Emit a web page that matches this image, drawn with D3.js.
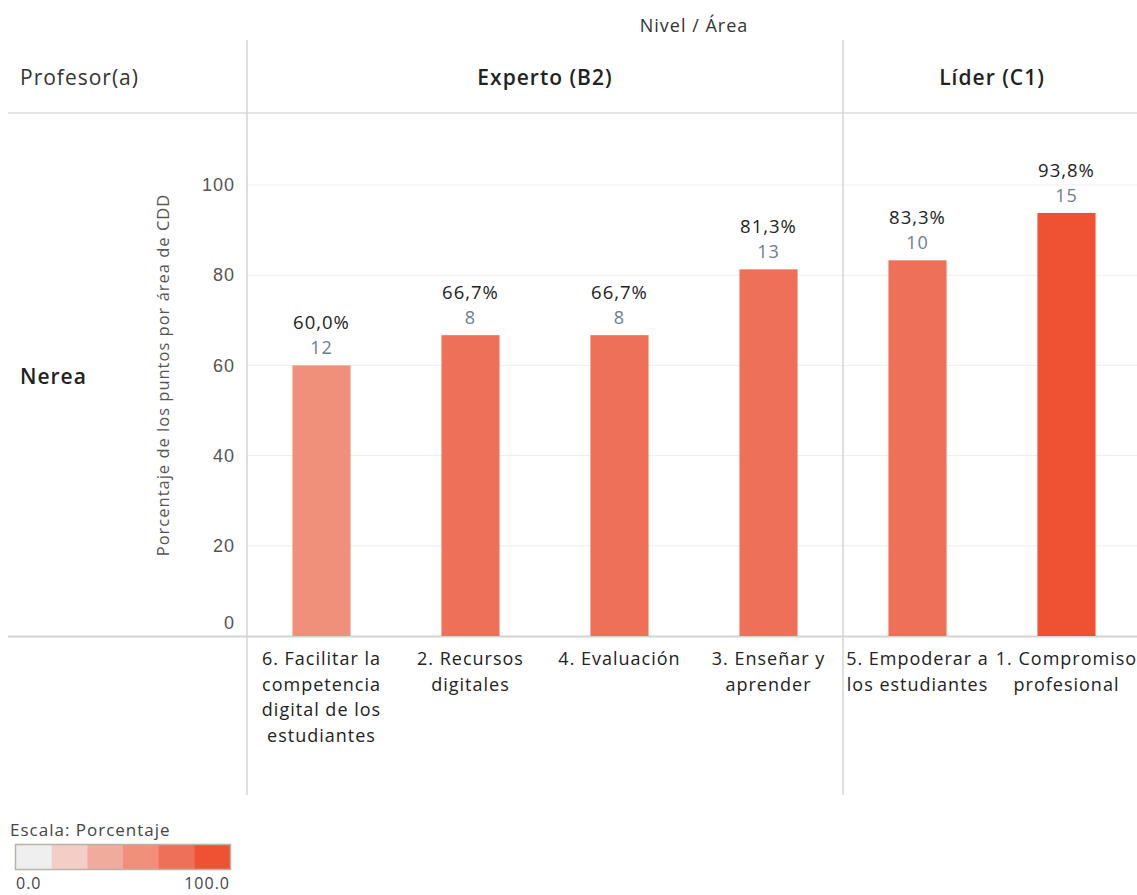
<!DOCTYPE html>
<html><head><meta charset="utf-8">
<script src="https://cdn.jsdelivr.net/npm/d3@7"></script>
<style>body{margin:0;background:#fff}svg{display:block;font-family:"Open Sans",Lato,sans-serif;letter-spacing:1px}</style>
</head><body>
<svg id="chart" width="1137" height="895"></svg>
<script>
const categories = [
  ["6. Facilitar la","competencia","digital de los","estudiantes"],
  ["2. Recursos","digitales"],
  ["4. Evaluación"],
  ["3. Enseñar y","aprender"],
  ["5. Empoderar a","los estudiantes"],
  ["1. Compromiso","profesional"]
];
const levels = ["Experto (B2)","Experto (B2)","Experto (B2)","Experto (B2)","Líder (C1)","Líder (C1)"];
const levelNames = ["Experto (B2)","Líder (C1)"];
const percentages = [60.0, 66.7, 66.7, 81.3, 83.3, 93.8];
const counts = [12, 8, 8, 13, 10, 15];
const yTicks = [0,20,40,60,80,100];
const legendColors = ["#efefef","#f2cec6","#f1ab9d","#f0907a","#ef7059","#ee5233"];
const teacher = "Nerea";

const svg = d3.select("#chart");
const left = 247, step = 149;
const x = d3.scaleBand().domain(d3.range(categories.length)).range([left, left + step*categories.length]).paddingInner(0.61).paddingOuter(0.305);
const y = d3.scaleLinear().domain([0,100]).range([636,185]);
const color = d3.scaleQuantize().domain([0,100]).range(legendColors);

// gridlines
svg.append("g").selectAll("line").data(yTicks.filter(d=>d>0)).join("line")
  .attr("x1", left).attr("x2", 1137).attr("y1", d=>y(d)).attr("y2", d=>y(d))
  .attr("stroke","#ededed").attr("stroke-width",1);

// header/borders
svg.append("line").attr("x1",8).attr("x2",1137).attr("y1",113).attr("y2",113).attr("stroke","#dcdcdc").attr("stroke-width",1.5);
svg.append("line").attr("x1",8).attr("x2",1137).attr("y1",636.5).attr("y2",636.5).attr("stroke","#d4d4d4").attr("stroke-width",2);
const paneBounds = [left, left + step*4];
paneBounds.forEach(px => {
  svg.append("line").attr("x1",px).attr("x2",px).attr("y1",40).attr("y2",795).attr("stroke","#d4d4d4").attr("stroke-width",1.5);
});

// titles
svg.append("text").attr("x",694).attr("y",32).attr("text-anchor","middle").attr("font-size",18).attr("fill","#333").text("Nivel  /  Área");
svg.append("text").attr("x",20).attr("y",85).attr("font-size",21).attr("fill","#333").text("Profesor(a)");
levelNames.forEach(lv => {
  const idx = levels.map((l,i)=>l===lv?i:-1).filter(i=>i>=0);
  const x0 = x(idx[0]) - x.step()*x.paddingInner()/2;
  const x1 = x(idx[idx.length-1]) + x.bandwidth() + x.step()*x.paddingInner()/2;
  svg.append("text").attr("x",(x0+x1)/2).attr("y",85).attr("text-anchor","middle").attr("font-size",21).attr("font-weight",600).attr("fill","#222").text(lv);
});
svg.append("text").attr("x",20).attr("y",384).attr("font-size",21).attr("font-weight",600).attr("fill","#222").text(teacher);

// y axis
const yAxis = svg.append("g").attr("transform",`translate(${left-12},0)`)
  .call(d3.axisLeft(y).tickValues(yTicks).tickSize(0).tickPadding(0));
yAxis.select(".domain").remove();
yAxis.selectAll("text").attr("font-size",18).attr("fill","#555").attr("font-family",null)
  .attr("dy",d=>d===0?"-0.4em":"0.32em");
svg.append("text").attr("transform","translate(169,375) rotate(-90)").attr("text-anchor","middle").attr("font-size",16.5).attr("fill","#555").text("Porcentaje de los puntos por área de CDD");

// bars
svg.append("g").selectAll("rect").data(percentages).join("rect")
  .attr("x",(d,i)=>x(i)).attr("width",x.bandwidth())
  .attr("y",d=>y(d)).attr("height",d=>y(0)-y(d))
  .attr("fill",d=>color(d));

// labels
svg.append("g").selectAll("text").data(percentages).join("text")
  .attr("x",(d,i)=>x(i)+x.bandwidth()/2).attr("y",d=>y(d)-36)
  .attr("text-anchor","middle").attr("font-size",18.5).attr("fill","#222")
  .text(d=>d.toFixed(1).replace(".",",")+"%");
svg.append("g").selectAll("text").data(counts).join("text")
  .attr("x",(d,i)=>x(i)+x.bandwidth()/2).attr("y",(d,i)=>y(percentages[i])-11)
  .attr("text-anchor","middle").attr("font-size",18).attr("fill","#6e7d8e")
  .text(d=>d);

// x labels
const xl = svg.append("g").selectAll("text").data(categories).join("text")
  .attr("x",(d,i)=>x(i)+x.bandwidth()/2).attr("y",665)
  .attr("text-anchor","middle").attr("font-size",18).attr("fill","#222");
xl.selectAll("tspan").data(d=>d).join("tspan")
  .attr("x",function(){return d3.select(this.parentNode).attr("x");})
  .attr("dy",(d,i)=>i===0?0:25.5).text(d=>d);

// legend
svg.append("text").attr("x",10).attr("y",836).attr("font-size",17).attr("fill","#444").text("Escala: Porcentaje");
const lx = d3.scaleBand().domain(d3.range(legendColors.length)).range([16,230]);
svg.append("g").selectAll("rect").data(legendColors).join("rect")
  .attr("x",(d,i)=>lx(i)).attr("y",845).attr("width",lx.bandwidth()+0.5).attr("height",24).attr("fill",d=>d);
svg.append("rect").attr("x",15.5).attr("y",844.5).attr("width",215).attr("height",25).attr("fill","none").attr("stroke","#b8b3a5").attr("stroke-width",1.5);
svg.append("text").attr("x",16).attr("y",889).attr("font-size",16).attr("fill","#444").text("0.0");
svg.append("text").attr("x",230).attr("y",889).attr("text-anchor","end").attr("font-size",16).attr("fill","#444").text("100.0");
</script>
</body></html>
